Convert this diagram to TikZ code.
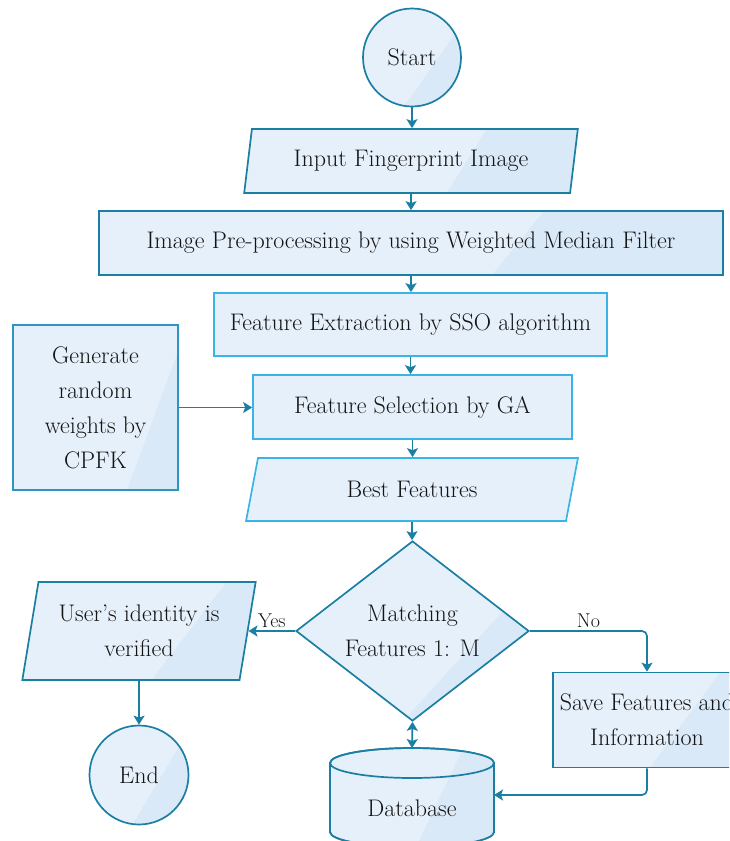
\documentclass[tikz,border=0pt]{standalone}
\usetikzlibrary{shapes.geometric,arrows.meta}

\definecolor{edge}{RGB}{27,126,163}
\definecolor{cyanedge}{RGB}{58,180,230}
\definecolor{genedge}{RGB}{45,148,196}
\definecolor{boxfill}{RGB}{230,240,250}
\definecolor{glossfill}{RGB}{218,233,247}
\definecolor{ink}{RGB}{20,20,20}

\tikzset{
  base/.style={draw=edge, line width=1.7pt, fill=boxfill, text=ink,
    font=\fontsize{24}{35}\selectfont, align=center, inner sep=0pt},
  % darker wedge on the right-hand side of a shape:
  % #1 = inset from the right edge at the top, #2 = inset at the bottom
  gloss/.style 2 args={path picture={
    \fill[glossfill]
      ([xshift={-(#1)}]path picture bounding box.north east)
      -- ([xshift=80]path picture bounding box.north east)
      -- ([xshift=80]path picture bounding box.south east)
      -- ([xshift={-(#2)}]path picture bounding box.south east) -- cycle;}},
  slanted/.style 2 args={trapezium, trapezium left angle=#1,
    trapezium right angle=#2, trapezium stretches=true},
  link/.style={draw=edge, line width=1.7pt,
    -{Stealth[length=9pt,width=11pt,inset=2pt]}},
  lbl/.style={text=ink, font=\fontsize{20}{22}\selectfont, inner sep=2pt}
}

\begin{document}
\begin{tikzpicture}[x=1pt,y=-1pt]
\useasboundingbox (0,0) rectangle (729,841);
\clip (0,0) rectangle (729,841);

% main column
\node[base, circle, minimum size=98, gloss={-12}{57}] (start) at (412,57.5) {Start};
\node[base, slanted={75}{105}, minimum width=334, minimum height=64,
      gloss={91}{131}] (input) at (411,161) {Input Fingerprint Image};
\node[base, rectangle, minimum width=624, minimum height=64, gloss={179}{231}]
      (pre) at (411,243) {Image Pre-processing by using Weighted Median Filter};
\node[base, draw=cyanedge, rectangle, minimum width=393, minimum height=63]
      (fe) at (410.5,324.5) {Feature Extraction by SSO algorithm};
\node[base, draw=genedge, rectangle, minimum width=165, minimum height=165,
      gloss={-10}{51}] (gen) at (95.5,407.5) {Generate\\random\\weights by\\CPFK};
\node[base, draw=cyanedge, rectangle, minimum width=319, minimum height=64]
      (fs) at (412.5,407) {Feature Selection by GA};
\node[base, draw=cyanedge, slanted={73}{107}, minimum width=332, minimum height=63]
      (best) at (412,489.5) {Best Features};
\node[base, diamond, aspect=1.3, minimum width=233, minimum height=180,
      gloss={-38}{125}] (dia) at (412.5,631) {Matching\\Features 1: M};
\node[base, slanted={76}{104}, minimum width=234, minimum height=98,
      gloss={29}{104}] (user) at (139,631) {User's identity is\\verified};
\node[base, circle, minimum size=99, gloss={-3}{56}] (end) at (139,775) {End};
\node[base, rectangle, minimum width=188, minimum height=95, gloss={21}{91}]
      (save) at (647,720) {Save Features and\\Information};

% database cylinder
\path[base] (330,763) -- (330,832)
  arc[start angle=180, end angle=360, x radius=82pt, y radius=15pt]
  -- (494,763)
  arc[start angle=0, end angle=180, x radius=82pt, y radius=15pt] -- cycle;
\begin{scope}
  \clip (330,763) -- (330,832)
    arc[start angle=180, end angle=360, x radius=82pt, y radius=15pt]
    -- (494,763)
    arc[start angle=0, end angle=180, x radius=82pt, y radius=15pt] -- cycle;
  \fill[glossfill] (467,740) -- (560,740) -- (560,860) -- (410,860) -- cycle;
\end{scope}
\draw[edge, line width=1.7pt] (330,763) -- (330,832)
  arc[start angle=180, end angle=360, x radius=82pt, y radius=15pt]
  -- (494,763)
  arc[start angle=0, end angle=180, x radius=82pt, y radius=15pt] -- cycle;
\draw[edge, line width=1.7pt] (330,763)
  arc[start angle=180, end angle=360, x radius=82pt, y radius=15pt];
\coordinate (dbtop) at (412,748);
\coordinate (dbright) at (494,795);
\node[text=ink, font=\fontsize{24}{35}\selectfont] (db) at (412,808) {Database};

% connectors
\draw[link] (start.south) -- (start.south |- input.north);
\draw[link] (input.south) -- (input.south |- pre.north);
\draw[link] (pre.south) -- (pre.south |- fe.north);
\draw[link] (fe.south) -- (fe.south |- fs.north);
\draw[link] (gen.east) -- (gen.east -| fs.west);
\draw[link] (fs.south) -- (fs.south |- best.north);
\draw[link] (best.south) -- (best.south |- dia.north);
\draw[link] (dia.west) -- node[lbl, above] (yes) {Yes} (dia.west -| user.east);
\draw[link, rounded corners=5pt] (dia.east) -- node[lbl, above] (no) {No}
  (dia.east -| save.north) -- (save.north);
\draw[link, {Stealth[length=9pt,width=11pt,inset=2pt]}-{Stealth[length=9pt,width=11pt,inset=2pt]}]
  (dia.south) -- (dbtop);
\draw[link, rounded corners=5pt] (save.south) |- (dbright);
\draw[link] (user.south) -- (user.south |- end.north);
\end{tikzpicture}
\end{document}
